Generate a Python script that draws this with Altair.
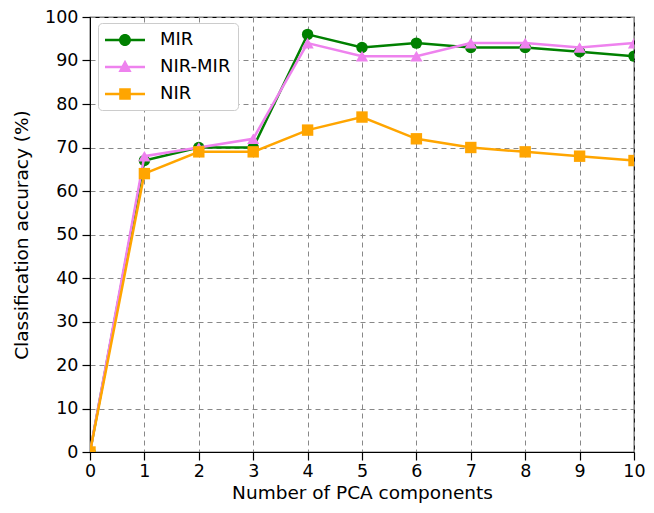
import altair as alt
import pandas as pd

components = [0, 1, 2, 3, 4, 5, 6, 7, 8, 9, 10]
mir = [0, 67, 70, 70, 96, 93, 94, 93, 93, 92, 91]
nir_mir = [0, 68, 70, 72, 94, 91, 91, 94, 94, 93, 94]
nir = [0, 64, 69, 69, 74, 77, 72, 70, 69, 68, 67]

series_names = ["MIR", "NIR-MIR", "NIR"]
series_values = [mir, nir_mir, nir]
colors = ["#008000", "#ee82ee", "#ffa500"]
shapes = ["circle", "triangle-up", "square"]

rows = []
for order, (name, vals) in enumerate(zip(series_names, series_values)):
    for x, v in zip(components, vals):
        rows.append({"x": x, "acc": v, "series": name, "order": order})
df = pd.DataFrame(rows)

FONT = "DejaVu Sans"
color_scale = alt.Scale(domain=series_names, range=colors)
xenc = alt.X("x:Q", scale=alt.Scale(domain=[0, 10], nice=False),
             axis=alt.Axis(values=components, title="Number of PCA components"))
yenc = alt.Y("acc:Q", scale=alt.Scale(domain=[0, 100], nice=False),
             axis=alt.Axis(values=list(range(0, 101, 10)), title="Classification accuracy (%)"))

layers = []
for name, col, shp in zip(series_names, colors, shapes):
    sub = alt.Chart(df).transform_filter(alt.datum.series == name)
    line = sub.mark_line(color=col, strokeWidth=2.5, clip=True).encode(x=xenc, y=yenc)
    pts = sub.mark_point(filled=True, color=col, shape=shp, size=130 if shp != "triangle-up" else 150,
                         opacity=1, clip=True).encode(x=xenc, y=yenc)
    layers += [line, pts]

# legend-only layer (no data drawn), symbols combine a line and marker
leg_paths = [
    "M-2,-0.12 H2 V0.12 H-2 Z M0.6,0 A0.6,0.6 0 1,1 -0.6,0 A0.6,0.6 0 1,1 0.6,0 Z",
    "M-2,-0.12 H2 V0.12 H-2 Z M0,-0.72 L0.66,0.5 L-0.66,0.5 Z",
    "M-2,-0.12 H2 V0.12 H-2 Z M-0.58,-0.58 H0.58 V0.58 H-0.58 Z",
]
legend_layer = alt.Chart(df).transform_filter("false").mark_point(filled=True, opacity=1).encode(
    x=xenc, y=yenc,
    color=alt.Color("series:N", scale=color_scale, legend=alt.Legend(title=None)),
    shape=alt.Shape("series:N", scale=alt.Scale(domain=series_names, range=leg_paths),
                    legend=alt.Legend(title=None)),
)
layers.append(legend_layer)

chart = alt.layer(*layers).properties(
    width=544, height=435,
    autosize=alt.AutoSizeParams(type="none"),
    padding={"left": 82, "top": 9, "right": 12, "bottom": 53},
).configure_view(stroke="black", strokeWidth=1.2).configure_axis(
    labelFont=FONT, titleFont=FONT, labelFontSize=17.5, titleFontSize=18.5,
    labelColor="black", titleColor="black", titleFontWeight="normal",
    domainColor="black", tickColor="black", tickSize=8, tickWidth=1.2,
    grid=True, gridColor="#888888", gridDash=[5, 4], gridWidth=1, gridOpacity=1,
).configure_axisX(titlePadding=4, labelPadding=2, labelFlush=False).configure_axisY(
    titlePadding=13, labelPadding=4
).configure_legend(
    orient="none", legendX=8, legendY=6,
    fillColor="white", strokeColor="#cccccc", strokeWidth=1, cornerRadius=4,
    padding=7, symbolSize=400, symbolOffset=10, labelOffset=25, rowPadding=8,
    labelFont=FONT, labelFontSize=18, labelColor="black", symbolStrokeWidth=0,
)

chart.save("out.html", embed_options={"renderer": "svg", "actions": False})
